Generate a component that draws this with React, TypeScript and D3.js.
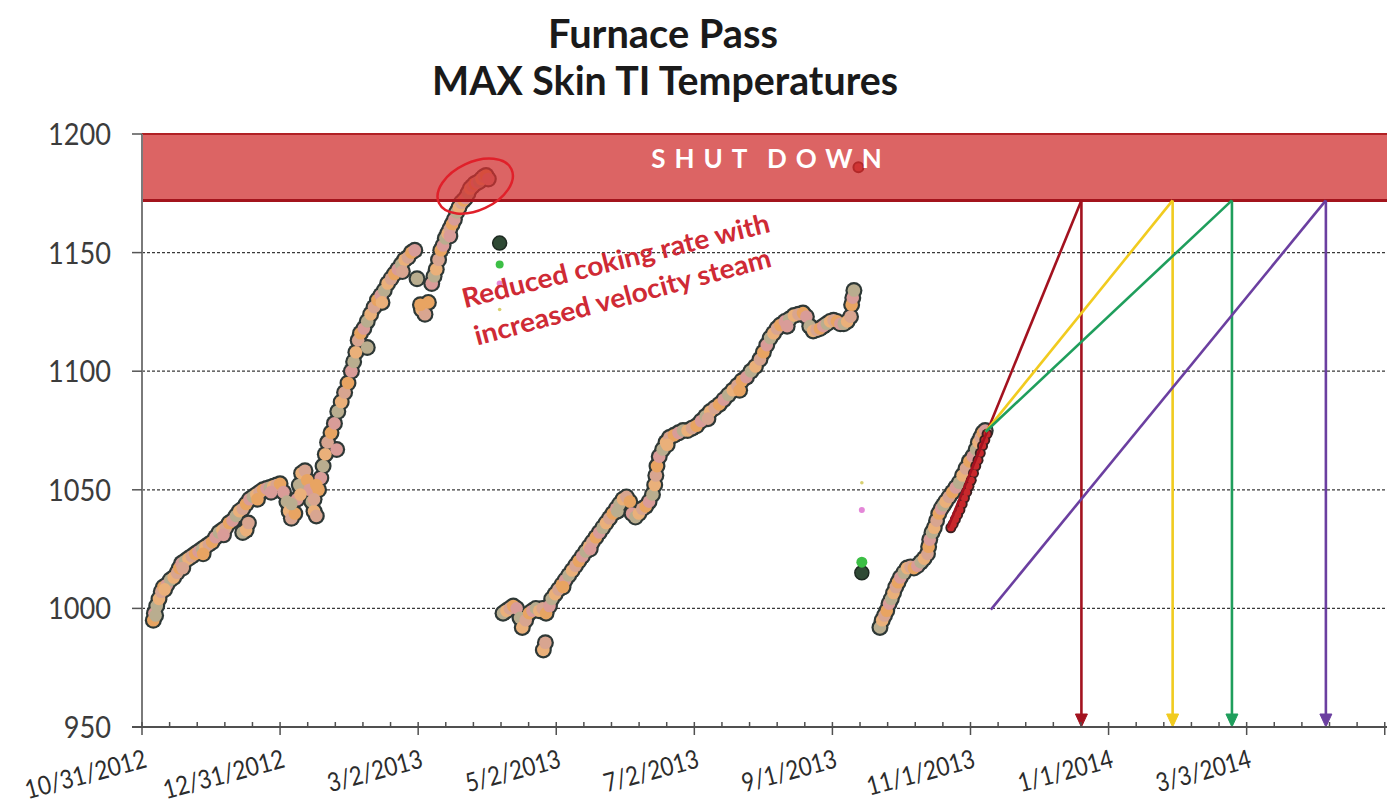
import React from "react";
import * as d3 from "d3";

const START = "10/31/2012";
const END = "5/4/2014";
const TITLE_1 = "Furnace Pass";
const TITLE_2 = "MAX Skin TI Temperatures";
const xTickLabels = ["10/31/2012", "12/31/2012", "3/2/2013", "5/2/2013", "7/2/2013", "9/1/2013", "11/1/2013", "1/1/2014", "3/3/2014"];
const yTicks = [950, 1000, 1050, 1100, 1150, 1200];
const SHUTDOWN_TEMP = 1172;

// [days after START, temperature]
const run1: [number, number][] = [
  [5,995],[5.5,998],[6.5,1001],[7.5,1004],[8.5,1007],[9.5,1009],[11,1010],[12.5,1012],[14,1013],[15.5,1015],[16.5,1017],[17.5,1019],[19,1020],[20.5,1021],[22,1022],[23.5,1023],[25,1024],[26.5,1025],[28,1026],[29.5,1027],[31,1028],[32.5,1030],[34,1032],[35.5,1033],[37,1034],[38.5,1036],[40,1037],[41.5,1039],[43,1041],[44.5,1042],[46,1044],[47.5,1046],[49,1047],[50.5,1048],[52,1049],[53.5,1050],[55,1050.5],[56.5,1051],[58,1051.5],[59.5,1052],[61,1052.5],[62.5,1049],[64,1045],[65,1041],[66,1038],[67.5,1040],[68.5,1046],[69.5,1052],[70.5,1057],[72,1058],[73,1054],[74,1050],[75,1045],[76,1041],[77,1039],[78,1050],[79,1055],[80,1060],[81,1065],[82,1070],[83.5,1074],[85,1078],[86.5,1083],[88,1087],[89.5,1091],[91,1095],[92.5,1100],[93.5,1104],[94.5,1108],[95.5,1113],[96.5,1116],[98,1118],[99.5,1121],[101,1124],[102.5,1127],[104,1130],[105.5,1132],[107,1134],[108.5,1137],[110,1139],[111.5,1141],[113,1143],[114.5,1145],[116,1147],[117.5,1148],[119,1150],[120.5,1151],[121.5,1139],[123.5,1126],[125,1124],[126.5,1129],[128,1137],[129,1140],[130,1143],[131,1147],[132,1151],[133,1153],[134,1156],[135,1158],[136,1160],[137,1162],[138,1164],[139,1167],[140,1169],[141,1171],[142,1172],[143,1173],[144,1175],[145,1177],[146,1178],[147,1179],[148,1179.5],[149,1180],[150,1181],[151,1182],[152,1182.5],[153,1181]
];
const run1Extra: [number, number][] = [
  [6,997],[10,1008],[18,1017],[27,1023],[36,1031],[44.5,1032],[46,1033],[47,1036],[51,1046],[57,1049],[66,1044],[70,1048],[76,1046],[77,1052],[86,1067],[99.5,1110],[106,1129],[115,1142],[123,1128],[136,1157]
];
const run2: [number, number][] = [
  [159.5,998],[161,999],[162.5,1000],[164,1001],[165.5,1000],[167,996],[168,992],[169.5,995],[171,998],[172.5,999],[174,1000],[175.5,999],[177,1000],[178.5,998],[180,1001],[181,1004],[182.5,1006],[184,1008],[185.5,1010],[187,1012],[188.5,1014],[190,1016],[191.5,1018],[193,1020],[194.5,1022],[196,1024],[197.5,1026],[199,1028],[200.5,1030],[202,1032],[203.5,1034],[205,1036],[206.5,1038],[208,1040],[209.5,1042],[211,1044],[212.5,1046],[214,1047],[215.5,1045],[216.5,1040],[218,1038.5],[219.5,1040],[221,1042],[222.5,1043],[224,1045],[225.5,1048],[226.5,1052],[227,1056],[227.5,1060],[228.5,1064],[230,1067],[231.5,1070],[233,1072],[235,1073],[237,1074],[239,1075],[241,1075],[243,1076],[245,1077],[247,1079],[249,1081],[251,1083],[253,1084.5],[255,1086],[257,1088],[259,1090],[261,1092],[263,1094],[265,1096],[267,1097.5],[269,1100],[271,1102],[273,1105],[274.5,1108],[276,1111],[277.5,1114],[279,1116],[280.5,1118],[282,1119.5],[284,1121],[286,1122],[288,1123.5],[290,1124],[292,1124.5],[293.5,1123],[295,1119],[296.5,1117],[298,1117.5],[299.5,1118],[301,1119],[302.5,1120],[304,1121],[305.5,1121.5],[307,1121],[308.5,1120],[310,1120],[311.5,1121],[313,1123],[313.5,1128],[314,1131],[314.5,1134]
];
const run2Extra: [number, number][] = [[177.3,982.5],[178.2,985.5],[186,1009],[198,1025],[210,1041],[232,1069],[250,1080],[264,1092],[285,1119]];
const run3: [number, number][] = [
  [326,992],[327,995],[328,997],[329,999],[330,1002],[331,1004],[332,1006.5],[333,1009],[334,1011],[335,1013],[336.5,1015],[338,1017],[339.5,1017.5],[341,1017],[342.5,1018],[344,1019.5],[345.5,1021],[347,1023],[347.5,1026],[348,1029],[349,1032],[350,1034],[351,1037],[352,1040],[353,1042],[354,1043.5],[355,1045],[356.5,1047],[358,1049],[359.5,1051],[361,1053],[362.5,1056],[364,1059],[365.5,1062],[367,1064],[368.5,1067],[369.5,1070],[370.5,1072],[371.5,1074],[372.5,1075]
];
const recentRun: [number, number][] = [
  [356,1034],[357,1035.5],[358,1037.5],[359,1039.5],[360,1041.5],[361,1044],[362,1046.5],[363,1049],[364,1051.5],[365,1054],[366,1057],[367,1060],[368,1062.5],[369,1065.5],[370,1068.5],[371,1071],[372,1073.5]
];
const outDark: [number, number][] = [[158,1154],[318,1015]];
const outGreen: [number, number][] = [[158,1145],[318,1019.5]];
const outPink: [number, number][] = [[158,1137],[318,1041.5]];
const outYellow: [number, number][] = [[158,1126],[318,1053]];
const outShutdown: [number, number][] = [[316.5,1186]];

// projections to shutdown
const projFromDays = [356, 372.7, 372.7, 375];
const projFromTemps = [1034, 1074.5, 1074.5, 999.5];
const projHitDays = [415, 455.3, 481.5, 523];
const projColors = ["#a3121f", "#f1cb1f", "#1f9e5c", "#6b3fa0"];

const ANNOT_1 = "Reduced coking rate with";
const ANNOT_2 = "increased velocity steam";

const W = 1387, H = 808;
const FONT = "Lato, 'Open Sans', sans-serif";
const parse = d3.timeParse("%m/%d/%Y");
const t0 = parse(START)!;
const dayToDate = (d: number) => new Date(t0.getTime() + d * 864e5);

const x = d3.scaleTime().domain([t0, parse(END)!]).range([142, 1387]);
const y = d3.scaleLinear().domain([950, 1200]).range([727, 134]);
const px = (d: number) => x(dayToDate(d));

const fills = ["#e8a462", "#d99c98", "#b9ad8f", "#eab07a", "#d8a590"];
const charW = (s: string, dw: number, sw: number) => s.split("").reduce((a, c) => a + (c === "/" ? sw : dw), 0);

export default function App() {
  const mainPts = [...run1, ...run1Extra, ...run2, ...run2Extra, ...run3];
  const minorStep = 61 / 5;
  const ticks = d3.range(0, 551, minorStep);
  const gridVals = [1000, 1050, 1100, 1150];
  const bandTop = y(1200), bandBot = y(SHUTDOWN_TEMP);
  const ellC = [px(147.2), y(1178)];
  return (
    <svg width={W} height={H} style={{ position: "absolute", left: 0, top: 0, background: "#fff" }} fontFamily={FONT}>
      <rect width={W} height={H} fill="#fff" />
      {/* title */}
      <text x={663} y={48} textAnchor="middle" fontSize={41} fontWeight="bold" fill="#1a1a1a" textLength={230} lengthAdjust="spacingAndGlyphs">{TITLE_1}</text>
      <text x={665} y={95} textAnchor="middle" fontSize={41} fontWeight="bold" fill="#1a1a1a" textLength={466} lengthAdjust="spacingAndGlyphs">{TITLE_2}</text>

      {/* gridlines */}
      {gridVals.map(v => (
        <line key={v} x1={142} x2={W} y1={y(v)} y2={y(v)} stroke="#3a3a3a" strokeWidth={1.2} strokeDasharray="3,2" />
      ))}

      {/* data outlines then fills */}
      {mainPts.map((p, i) => <circle key={"o" + i} cx={px(p[0])} cy={y(p[1])} r={8.5} fill="#2e3836" />)}
      {mainPts.map((p, i) => <circle key={"f" + i} cx={px(p[0])} cy={y(p[1])} r={6.3} fill={fills[i % fills.length]} />)}
      {recentRun.map((p, i) => <circle key={"ro" + i} cx={px(p[0]) + 3} cy={y(p[1])} r={5.5} fill="#3a2020" />)}
      {recentRun.map((p, i) => <circle key={"rf" + i} cx={px(p[0]) + 3} cy={y(p[1])} r={3.6} fill="#c8282c" />)}

      {/* outliers */}
      {outDark.map((p, i) => <circle key={"od" + i} cx={px(p[0])} cy={y(p[1])} r={7} fill="#2f4a35" stroke="#1e2a22" strokeWidth={1.5} />)}
      {outGreen.map((p, i) => <circle key={"og" + i} cx={px(p[0])} cy={y(p[1])} r={i === 0 ? 4 : 5.5} fill="#3cbf45" />)}
      {outPink.map((p, i) => <circle key={"op" + i} cx={px(p[0])} cy={y(p[1])} r={3} fill="#e487d8" />)}
      {outYellow.map((p, i) => <circle key={"oy" + i} cx={px(p[0])} cy={y(p[1])} r={1.8} fill="#d8d070" />)}
      {outShutdown.map((p, i) => <circle key={"os" + i} cx={px(p[0])} cy={y(p[1])} r={5} fill="#d04040" stroke="#5a1010" strokeWidth={2} />)}

      {/* shutdown band */}
      <rect x={142} y={bandTop} width={W - 142} height={bandBot - bandTop} fill="rgb(208,48,48)" fillOpacity={0.75} />
      <line x1={142} x2={W} y1={bandTop} y2={bandTop} stroke="#b02024" strokeWidth={2} />
      <line x1={142} x2={W} y1={bandBot} y2={bandBot} stroke="#a3141c" strokeWidth={3} />
      <text x={771} y={168} textAnchor="middle" fontSize={26} fontWeight="bold" fill="#fff" letterSpacing={9} wordSpacing={-4}>SHUT DOWN</text>

      {/* ellipse highlight */}
      <ellipse cx={ellC[0]} cy={ellC[1]} rx={40} ry={24} transform={`rotate(-25 ${ellC[0]} ${ellC[1]})`} fill="none" stroke="#e0202a" strokeWidth={2.5} />

      {/* projections */}
      {projColors.map((c, i) => {
        const xs = px(projFromDays[i]), ys = y(projFromTemps[i]);
        const xh = px(projHitDays[i]), yh = y(SHUTDOWN_TEMP), yb = y(950);
        return (
          <g key={"p" + i}>
            <line x1={xs} y1={ys} x2={xh} y2={yh} stroke={c} strokeWidth={2.6} />
            <line x1={xh} y1={yh} x2={xh} y2={yb - 10} stroke={c} strokeWidth={2.6} />
            <path d={`M${xh - 6},${yb - 13}L${xh + 6},${yb - 13}L${xh},${yb}Z`} fill={c} stroke={c} strokeWidth={1} />
          </g>
        );
      })}

      {/* annotation */}
      <text x={618} y={270} textAnchor="middle" fontSize={27} fontWeight="bold" fill="#cf2a35" textLength={316} lengthAdjust="spacingAndGlyphs" transform="rotate(-14 618 270)">{ANNOT_1}</text>
      <text x={625} y={306} textAnchor="middle" fontSize={27} fontWeight="bold" fill="#cf2a35" textLength={306} lengthAdjust="spacingAndGlyphs" transform="rotate(-15 625 306)">{ANNOT_2}</text>

      {/* y axis */}
      <line x1={142} x2={142} y1={y(1200)} y2={y(950)} stroke="#7a7a7a" strokeWidth={2} />
      {yTicks.map(v => (
        <g key={"yt" + v}>
          <line x1={132} x2={142} y1={y(v)} y2={y(v)} stroke="#555" strokeWidth={1.5} />
          <text x={111} y={y(v) + 11} textAnchor="end" fontSize={30} fill="#3c3c3c" textLength={String(v).length * 15.75} lengthAdjust="spacingAndGlyphs">{v}</text>
        </g>
      ))}

      {/* x axis */}
      <line x1={132} x2={W} y1={y(950)} y2={y(950)} stroke="#505050" strokeWidth={2} />
      {ticks.map((d, i) => {
        const xx = px(d);
        const major = i % 5 === 0;
        return <line key={"xt" + i} x1={xx} x2={xx} y1={y(950) - 5} y2={y(950) + (major ? 8 : 0)} stroke="#505050" strokeWidth={1.5} />;
      })}
      {xTickLabels.map(s => {
        const xx = x(parse(s)!) + 6;
        const yy = 767;
        return (
          <text key={s} x={xx} y={yy} textAnchor="end" fontSize={26} fill="#2c2c2c" textLength={charW(s, 13.6, 7.8)} lengthAdjust="spacingAndGlyphs" transform={`rotate(-15 ${xx} ${yy})`}>{s}</text>
        );
      })}
    </svg>
  );
}
